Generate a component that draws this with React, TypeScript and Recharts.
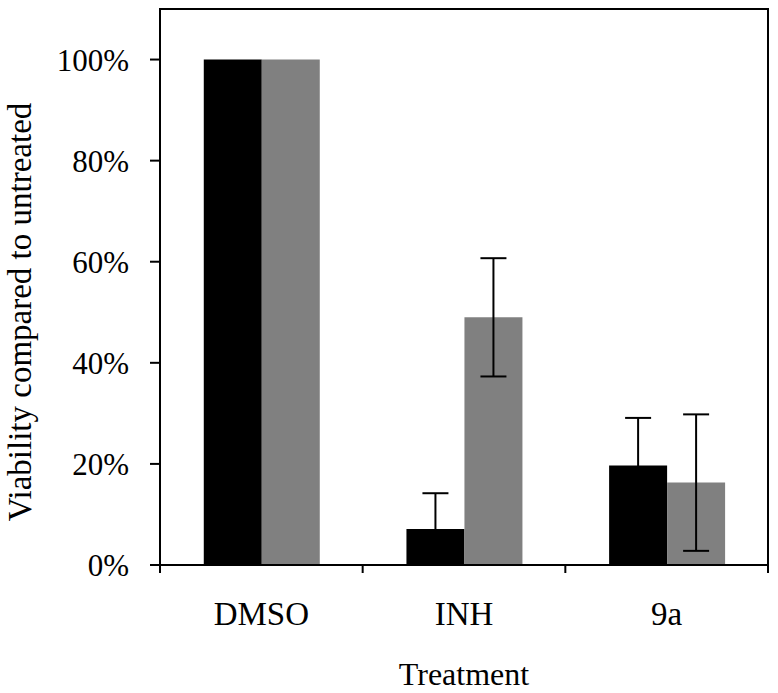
import { BarChart, Bar, XAxis, YAxis, ErrorBar, ReferenceArea } from 'recharts';

const treatments = ['DMSO', 'INH', '9a'];
const blackValues = [100, 7.1, 19.7];
const blackErrors = [0, 7.1, 9.4];
const grayValues = [100, 49.0, 16.3];
const grayErrors = [0, 11.7, 13.5];
const yTicks = [0, 20, 40, 60, 80, 100];

const FONT = 'Liberation Serif, serif';

const data = treatments.map((name, i) => ({
  name,
  black: blackValues[i],
  blackErr: blackErrors[i],
  gray: grayValues[i],
  grayErr: grayErrors[i],
}));

// category label plus tick marks on the band edges
function CategoryTick(props: any) {
  const { x, y, payload, index } = props;
  const half = payload.offset ?? 0;
  const last = index === treatments.length - 1;
  return (
    <g>
      <line x1={x - half} x2={x - half} y1={y} y2={y + 8} stroke="#000" strokeWidth={2} />
      {last && <line x1={x + half} x2={x + half} y1={y} y2={y + 8} stroke="#000" strokeWidth={2} />}
      <text x={x} y={y + 60} textAnchor="middle" style={{ fontFamily: FONT }} fontSize={33} fill="#000">
        {payload.value}
      </text>
    </g>
  );
}

export default function App() {
  return (
    <div style={{ position: 'absolute', left: 0, top: 0, background: '#fff', fontFamily: FONT }}>
      <BarChart
        width={778}
        height={693}
        data={data}
        margin={{ top: 9, right: 10, left: 0, bottom: 0 }}
        barCategoryGap="21.6%"
        barGap={0}
      >
        <XAxis
          dataKey="name"
          height={128}
          tickSize={0}
          tickMargin={0}
          tickLine={false}
          tick={CategoryTick}
          interval={0}
          axisLine={{ stroke: '#000', strokeWidth: 2 }}
          label={{
            content: (p: any) => {
              const vb = p.viewBox || { x: 160, y: 565, width: 608 };
              return (
                <text
                  x={vb.x + vb.width / 2}
                  y={vb.y + 120}
                  textAnchor="middle"
                  style={{ fontFamily: FONT }}
                  fontSize={32}
                  fill="#000"
                >
                  Treatment
                </text>
              );
            },
          }}
        />
        <YAxis
          domain={[0, 110]}
          ticks={yTicks}
          width={160}
          tickSize={10}
          tickMargin={21}
          tickFormatter={(v: number) => `${v}%`}
          tick={{ fontFamily: FONT, fontSize: 31, fill: '#000' }}
          tickLine={{ stroke: '#000', strokeWidth: 2 }}
          axisLine={{ stroke: '#000', strokeWidth: 2 }}
          label={{
            content: (p: any) => {
              const vb = p.viewBox || { y: 9, height: 556 };
              const cy = vb.y + vb.height / 2 + 25;
              return (
                <text
                  transform={`translate(31, ${cy}) rotate(-90)`}
                  textAnchor="middle"
                  style={{ fontFamily: FONT }}
                  fontSize={33}
                  fill="#000"
                >
                  Viability compared to untreated
                </text>
              );
            },
          }}
        />
        <ReferenceArea
          x1="DMSO"
          x2="9a"
          y1={0}
          y2={110}
          fill="none"
          fillOpacity={0}
          stroke="#000"
          strokeWidth={2}
          ifOverflow="visible"
        />
        <Bar dataKey="black" fill="#000000" isAnimationActive={false}>
          <ErrorBar dataKey="blackErr" width={13} stroke="#000" strokeWidth={2} isAnimationActive={false} />
        </Bar>
        <Bar dataKey="gray" fill="#808080" isAnimationActive={false}>
          <ErrorBar dataKey="grayErr" width={13} stroke="#000" strokeWidth={2} isAnimationActive={false} />
        </Bar>
      </BarChart>
    </div>
  );
}
